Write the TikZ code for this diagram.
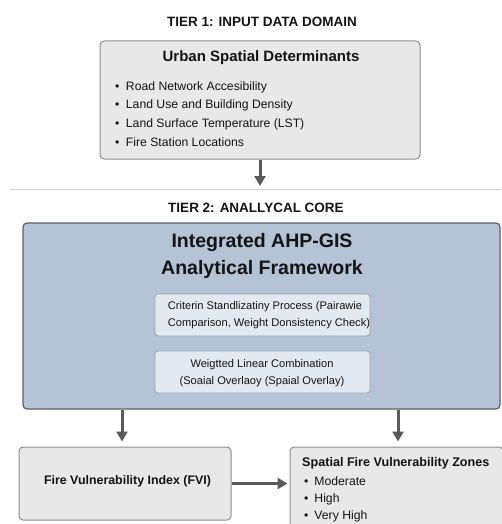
\documentclass[tikz,border=0pt]{standalone}
\usepackage{fontspec}
\setmainfont{Liberation Sans}
\usetikzlibrary{arrows.meta,calc}

\definecolor{ink}{HTML}{141414}
\definecolor{greyfill}{HTML}{E8E8E8}
\definecolor{greyedge}{HTML}{8E8E8E}
\definecolor{corefill}{HTML}{B4C3D6}
\definecolor{coreedge}{HTML}{5E6166}
\definecolor{subfill}{HTML}{E3E9F1}
\definecolor{subedge}{HTML}{98A3B2}
\definecolor{arrowgrey}{HTML}{5A5A5A}
\definecolor{rulegrey}{HTML}{CFCFCF}

\tikzset{
  panel/.style={draw=greyedge, fill=greyfill, line width=1pt, rounded corners=4pt, inner sep=0pt},
  corebox/.style={draw=coreedge, fill=corefill, line width=1.2pt, rounded corners=4pt, inner sep=0pt},
  subbox/.style={draw=subedge, fill=subfill, line width=0.8pt, rounded corners=3pt, inner sep=0pt},
  tierlabel/.style={font=\fontsize{13.5}{16}\selectfont\bfseries, text=ink, inner sep=0pt},
  paneltitle/.style={font=\fontsize{15}{18}\selectfont\bfseries, text=ink, inner sep=0pt},
  item/.style={font=\fontsize{12.2}{14}\selectfont, text=ink, anchor=west, inner sep=0pt},
  flow/.style={draw=arrowgrey, line width=3pt, -{Triangle[length=10pt,width=11pt]}},
}

\begin{document}
\begin{tikzpicture}[x=1pt,y=-1pt]
\useasboundingbox (0,0) rectangle (501,524);

% ---- tier 1 ----
\node[tierlabel] (tier1) at (262,22) {TIER 1: INPUT DATA DOMAIN};
\node[panel, minimum width=320pt, minimum height=118pt] (inputs) at (260,100) {};
\node[paneltitle] (inputsTitle) at (261,58) {Urban Spatial Determinants};
\node[item] (i1) at (115,87) {•\hspace{6.5pt}Road Network Accesibility};
\node[item] (i2) at (115,105.5) {•\hspace{6.5pt}Land Use and Building Density};
\node[item] (i3) at (115,124) {•\hspace{6.5pt}Land Surface Temperature (LST)};
\node[item] (i4) at (115,142.5) {•\hspace{6.5pt}Fire Station Locations};

\coordinate (tierGap) at (260,186);
\draw[flow] (inputs.south) -- (tierGap);

% divider between the tiers
\draw[rulegrey, line width=1.5pt] (10,189.5) -- (501,189.5);

% ---- tier 2 ----
\node[tierlabel] (tier2) at (256,208) {TIER 2: ANALLYCAL CORE};
\node[corebox, minimum width=477pt, minimum height=186pt] (core) at (261.5,316) {};
\node[font=\fontsize{19.5}{27}\selectfont\bfseries, text=ink, align=center, inner sep=0pt] (coreTitle) at (262,255.5)
  {Integrated AHP-GIS\\Analytical Framework};
\node[subbox, minimum width=215pt, minimum height=42pt] (ahp) at (262.5,315) {};
\node[font=\fontsize{11.1}{17}\selectfont, text=ink, align=center, inner sep=0pt] (ahpText) at (265,315)
  {Criterin Standlizatiny Process (Pairawie\\\hspace{8pt}Comparison, Weight Donsistency Check)};
\node[subbox, minimum width=215pt, minimum height=42pt] (wlc) at (262.5,372) {};
\node[font=\fontsize{11.1}{17.5}\selectfont, text=ink, align=center, inner sep=0pt] (wlcText) at (262,373)
  {Weigtted Linear Combination\\(Soaial Overlaoy (Spaial Overlay)};

% ---- outputs ----
\node[panel, minimum width=212pt, minimum height=73pt] (fvi) at (125,483.5) {};
\node[font=\fontsize{12.4}{15}\selectfont\bfseries, text=ink, inner sep=0pt] (fviText) at (127.5,481.5) {Fire Vulnerability Index (FVI)};
\node[panel, minimum width=213pt, minimum height=90pt] (zones) at (396.5,492) {};
\node[font=\fontsize{12.6}{15}\selectfont\bfseries, text=ink, anchor=west, inner sep=0pt] (zonesTitle) at (302,463.5) {Spatial Fire Vulnerability Zones};
\node[item] (z1) at (304,481) {•\hspace{6pt}Moderate};
\node[item] (z2) at (304,499) {•\hspace{6pt}High};
\node[item] (z3) at (304,516.5) {•\hspace{6pt}Very High};

% ---- connectors ----
\coordinate (coreL) at ($(core.south)+(-139.5,0)$);
\coordinate (coreR) at ($(core.south)+(136.5,0)$);
\draw[flow, shorten >=5pt] (coreL) -- (coreL |- fvi.north);
\draw[flow, shorten >=5pt] (coreR) -- (coreR |- zones.north);
\draw[flow, shorten >=2pt] (fvi.east) -- (fvi.east -| zones.west);
\end{tikzpicture}
\end{document}
